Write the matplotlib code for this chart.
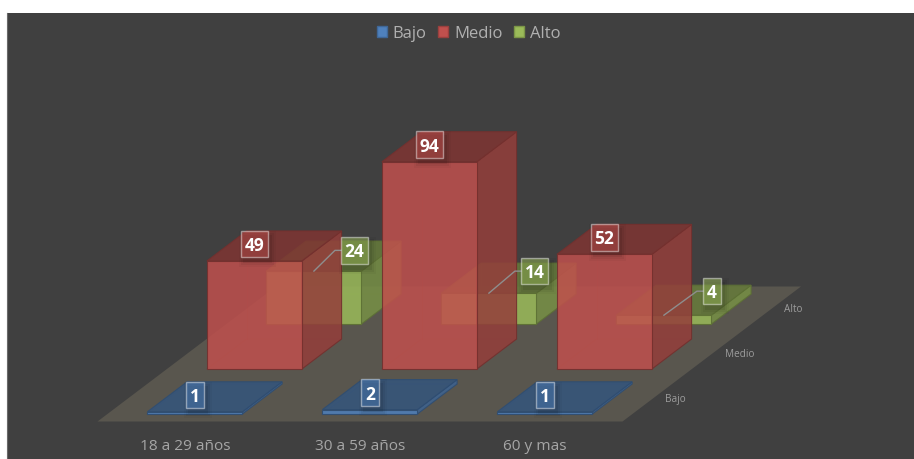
import matplotlib
matplotlib.use("Agg")
import matplotlib.pyplot as plt
from matplotlib.patches import Polygon, Rectangle, Patch

categories = ["18 a 29 años", "30 a 59 años", "60 y mas"]
series = ["Bajo", "Medio", "Alto"]
bajo = [1, 2, 1]
medio = [49, 94, 52]
alto = [24, 14, 4]

colors = {"Bajo": "#4F81BD", "Medio": "#C0504D", "Alto": "#9BBB59"}
text_gray = "#A6A6A6"

# moved labels of the Alto series, pixels from the bar top
alto_dx = [40.5, 45.5, 48]
alto_dy = [-20.7, -22, -24]

plt.rcParams["font.family"] = ["Open Sans", "DejaVu Sans"]

# oblique projection of the Excel 3D chart, all in pixels
x0, y0 = 97.5, 421.5
cat_w = 175.0
ser_dx, ser_dy = 59.5, -45.0
per_unit = 2.205
bar_w = 95.0 / 175.0
bar_d = 2.0 / 3.0


def proj(c, s, v=0):
    return (x0 + cat_w * c + ser_dx * s, y0 + ser_dy * s - per_unit * v)


def shade(col, f):
    r, g, b = matplotlib.colors.to_rgb(col)
    return (r * f, g * f, b * f)


def draw_bar(ax, i, j, val, col):
    c0 = i + (1 - bar_w) / 2
    c1 = c0 + bar_w
    s0 = j + (1 - bar_d) / 2
    s1 = s0 + bar_d
    edge = shade(col, 0.6)
    # hidden edges seen through the glass
    hidden = [
        [proj(c0, s0, 0), proj(c0, s1, 0), proj(c1, s1, 0)],
        [proj(c0, s1, 0), proj(c0, s1, val)],
    ]
    for h in hidden:
        ax.plot(*zip(*h), color=edge, lw=0.7, alpha=0.3, zorder=2 + (2 - j) * 2)
    faces = [
        ([proj(c1, s0, 0), proj(c1, s1, 0), proj(c1, s1, val), proj(c1, s0, val)], 0.77),
        ([proj(c0, s0, val), proj(c1, s0, val), proj(c1, s1, val), proj(c0, s1, val)], 0.66),
        ([proj(c0, s0, 0), proj(c1, s0, 0), proj(c1, s0, val), proj(c0, s0, val)], 1.0),
    ]
    for pts, f in faces:
        r, g, b = shade(col, f)
        ax.add_patch(Polygon(pts, closed=True, facecolor=(r, g, b, 0.85),
                             edgecolor=edge + (0.9,), lw=0.8, zorder=2 + (2 - j) * 2))
    return proj((c0 + c1) / 2, s0, val)


fig = plt.figure(figsize=(9.14, 4.59), dpi=100, facecolor="white")
ax = fig.add_axes([0, 0, 1, 1])
ax.set_xlim(0, 914)
ax.set_ylim(459, 0)
ax.axis("off")

ax.add_patch(Rectangle((7, 13), 908, 447, facecolor="#404040", edgecolor="none", zorder=0))
ax.plot([7, 7], [13, 459], color="#6A6A6A", lw=0.8, zorder=0.5)

# floor
ax.add_patch(Polygon([proj(0, 0), proj(3, 0), proj(3, 3), proj(0, 3)], closed=True,
                     facecolor="#59564E", edgecolor="none", zorder=1))

# bars, back row first
anchors = {}
for j, (name, vals) in reversed(list(enumerate(zip(series, [bajo, medio, alto])))):
    for i, v in enumerate(vals):
        anchors[(i, j)] = (draw_bar(ax, i, j, v, colors[name]), v, name)

# data labels
for (i, j), ((ax_x, ax_y), v, name) in anchors.items():
    w = 27 if v >= 10 else 18
    h = 26.5
    cx, cy = ax_x, ax_y - 17
    if name == "Alto":
        cx, cy = ax_x + alto_dx[i], ax_y + alto_dy[i]
        left = cx - w / 2
        ax.plot([left, left - 6, ax_x], [cy, cy, ax_y], color="#8E8E8E", lw=1, zorder=20)
    for grow, a in [(5, 0.03), (3, 0.05), (1, 0.07)]:
        ax.add_patch(Rectangle((cx - w / 2 + 3 - grow, cy - h / 2 + 5 - grow), w + 2 * grow, h + 2 * grow,
                               facecolor="black", edgecolor="none", alpha=a, zorder=19))
    r, g, b = matplotlib.colors.to_rgb(colors[name])
    ax.add_patch(Rectangle((cx - w / 2, cy - h / 2), w, h, facecolor=(r, g, b, 0.5),
                           edgecolor=(1, 1, 1, 0.45), lw=1, zorder=21))
    ax.text(cx, cy, str(v), color="white", fontsize=12.5, fontweight="bold",
            ha="center", va="center_baseline", zorder=22)

# axis labels
for i, c in enumerate(categories):
    px, py = proj(i + 0.5, 0)
    ax.text(px, 446, c, color=text_gray, fontsize=11.1, ha="center", va="center")
for j, s in enumerate(series):
    px, py = proj(3, j + 0.5)
    ax.text(px + 13, py + 0.5, s, color="#9C9C9C", fontsize=7.2, ha="left", va="center")

handles = [Patch(facecolor=colors[s], edgecolor=shade(colors[s], 0.8), label=s) for s in series]
ax.legend(handles=handles, loc="center", bbox_to_anchor=(468.5 / 914, 1 - 33.5 / 459), ncol=3, frameon=False,
          fontsize=12, labelcolor="#B0B0B0", handlelength=0.6, handleheight=0.6, handletextpad=0.35,
          columnspacing=0.7, borderpad=0, borderaxespad=0)

fig.savefig("out.png", dpi=100, facecolor="white")
